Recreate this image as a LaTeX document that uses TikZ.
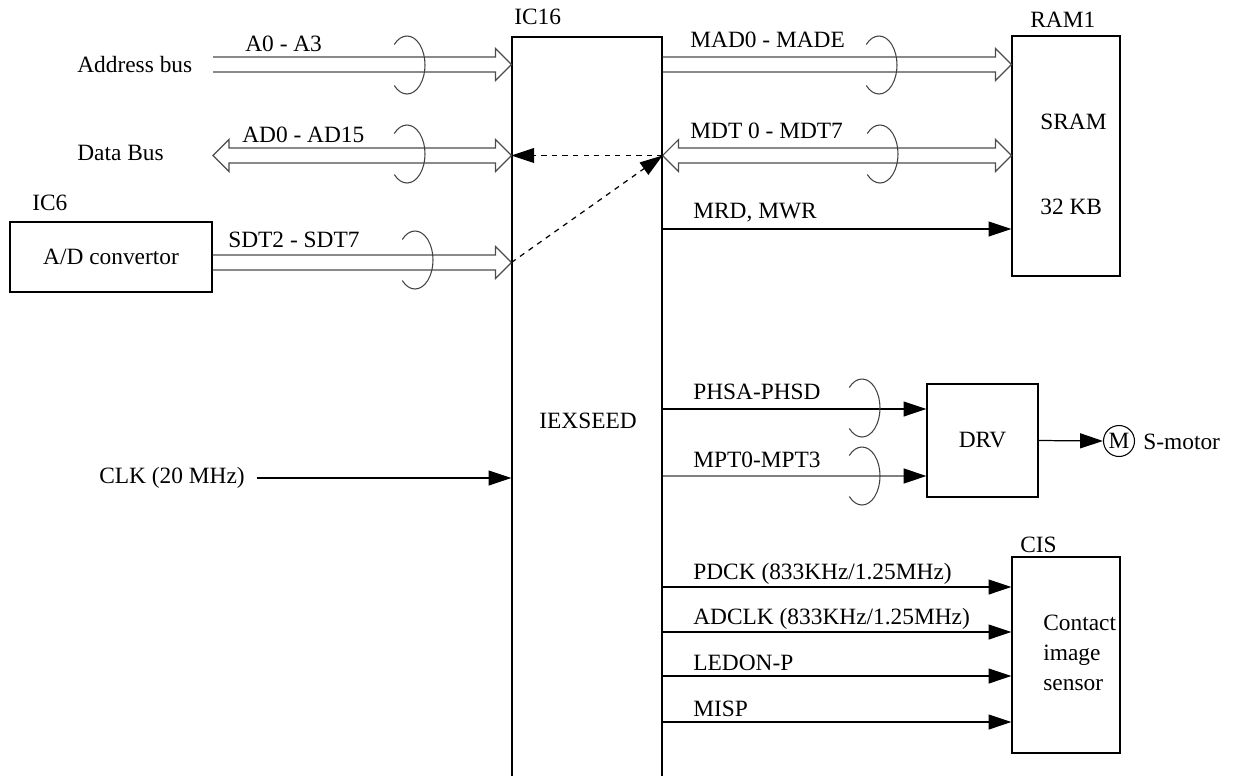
\documentclass[tikz,border=0pt]{standalone}
\usepackage{fontspec}
\setmainfont{Liberation Serif}
\usetikzlibrary{arrows.meta,positioning,calc}

% open double-line bus arrows
\newcommand{\busright}[2]{%
  \draw[bus] ([shift={(0,-7.5)}]#1) -- ([shift={(-16,-7.5)}]#2) -- ([shift={(-16,-16)}]#2) -- (#2)
    -- ([shift={(-16,16)}]#2) -- ([shift={(-16,7.5)}]#2) -- ([shift={(0,7.5)}]#1);}
\newcommand{\busboth}[2]{%
  \draw[bus] (#1) -- ([shift={(16,-16)}]#1) -- ([shift={(16,-7.5)}]#1) -- ([shift={(-16,-7.5)}]#2)
    -- ([shift={(-16,-16)}]#2) -- (#2) -- ([shift={(-16,16)}]#2) -- ([shift={(-16,7.5)}]#2)
    -- ([shift={(16,7.5)}]#1) -- ([shift={(16,16)}]#1) -- cycle;}
\newcommand{\twist}[1]{\draw[twist] (#1) ++(135:18 and 29) arc[start angle=135, end angle=-135, x radius=18, y radius=29];}

\begin{document}
\begin{tikzpicture}[x=0.02cm, y=-0.02cm, every node/.style={font=\fontsize{13.3}{17}\selectfont},
		box/.style={draw, line width=0.7pt, inner sep=0},
		lbl/.style={inner sep=0, anchor=west},
		sig/.style={line width=0.7pt, -{Triangle[length=13pt,width=8.5pt]}},
		dsig/.style={sig, dashed},
		bus/.style={draw=black!70, line width=0.7pt},
		twist/.style={draw=black!75, line width=0.6pt}]
	\useasboundingbox (0,0) rectangle (1236,775);
	% blocks
	\node[box, minimum width=3cm, minimum height=14.9cm] (ic16) at (587,409.5) {};
	\node[lbl] at (514,17) {IC16};
	\node at (588,421) {IEXSEED};
	\node[box, minimum width=2.16cm, minimum height=4.8cm] (ram) at (1066,156) {};
	\node[lbl] at (1030,20) {RAM1};
	\node[lbl] at (1040,122) {SRAM};
	\node[lbl] at (1040,207) {32 KB};
	\node[box, minimum width=4.04cm, minimum height=1.4cm] (adc) at (111,257) {A/D convertor};
	\node[lbl] at (32,203) {IC6};
	\node[box, minimum width=2.22cm, minimum height=2.26cm] (drv) at (982.5,440.5) {DRV};
	\node[draw, circle, line width=0.6pt, inner sep=0, minimum size=0.62cm] (mot) at (1119,441) {M};
	\node[lbl] (smot) at (1143,442) {S-motor};
	\node[box, minimum width=2.16cm, minimum height=3.92cm] (cis) at (1066,655) {};
	\node[lbl] at (1020,545) {CIS};
	\node[lbl, align=left] at (1043,653) {Contact\\image\\sensor};
	\node[lbl] (abus) at (77,65) {Address bus};
	\node[lbl] (dbus) at (77,153) {Data Bus};
	\node[lbl] (clk) at (99,478) {CLK (20 MHz)};
	% buses
	\coordinate (a0) at (213,64.5);
	\coordinate (a0e) at (ic16.west |- a0);
	\coordinate (ad) at (213,155.5);
	\coordinate (ade) at (ic16.west |- ad);
	\coordinate (sd) at (adc.east |- 0,262.5);
	\coordinate (sde) at (ic16.west |- sd);
	\coordinate (mad) at (ic16.east |- a0);
	\coordinate (made) at (ram.west |- a0);
	\coordinate (mdt) at (ic16.east |- ad);
	\coordinate (mdte) at (ram.west |- ad);
	\busright{a0}{a0e}
	\busboth{ad}{ade}
	\busright{sd}{sde}
	\busright{mad}{made}
	\busboth{mdt}{mdte}
	\twist{407,65} \twist{407,154} \twist{415,260}
	\twist{879,65} \twist{880,154}
	\node[lbl] at (245,44) {A0 - A3};
	\node[lbl] at (242,135) {AD0 - AD15};
	\node[lbl] at (228,240) {SDT2 - SDT7};
	\node[lbl] at (690,40) {MAD0 - MADE};
	\node[lbl] at (690,131) {MDT 0 - MDT7};
	\draw[dsig] (sde) -- (mdt);
	\draw[dsig] (mdt) -- (ade);
	% control lines
	\coordinate (ymrd) at (0,229);
	\draw[sig] (ic16.east |- ymrd) -- (ram.west |- ymrd);
	\node[lbl] at (693,213) {MRD, MWR};
	\draw[sig] ([xshift=7pt]clk.east) -- (clk -| ic16.west);
	\coordinate (yph) at (0,409);
	\coordinate (ymp) at (0,476);
	\draw[sig] (ic16.east |- yph) -- (drv.west |- yph);
	\draw[sig, draw=black!50, line width=1pt, -{Triangle[length=13pt,width=8.5pt,color=black]}] (ic16.east |- ymp) -- (drv.west |- ymp);
	\twist{862,408} \twist{862,476}
	\node[lbl] at (693,392) {PHSA-PHSD};
	\node[lbl] at (693,460) {MPT0-MPT3};
	\draw[sig] (drv.east) -- (mot.west);
	\foreach \yy/\txt in {587/{PDCK (833KHz/1.25MHz)}, 632/{ADCLK (833KHz/1.25MHz)}, 676/{LEDON-P}, 722/{MISP}} {
		\draw[sig] (ic16.east |- 0,\yy) -- (cis.west |- 0,\yy);
		\node[lbl] at (693,\yy-13) {\txt};
	}
\end{tikzpicture}
\end{document}
